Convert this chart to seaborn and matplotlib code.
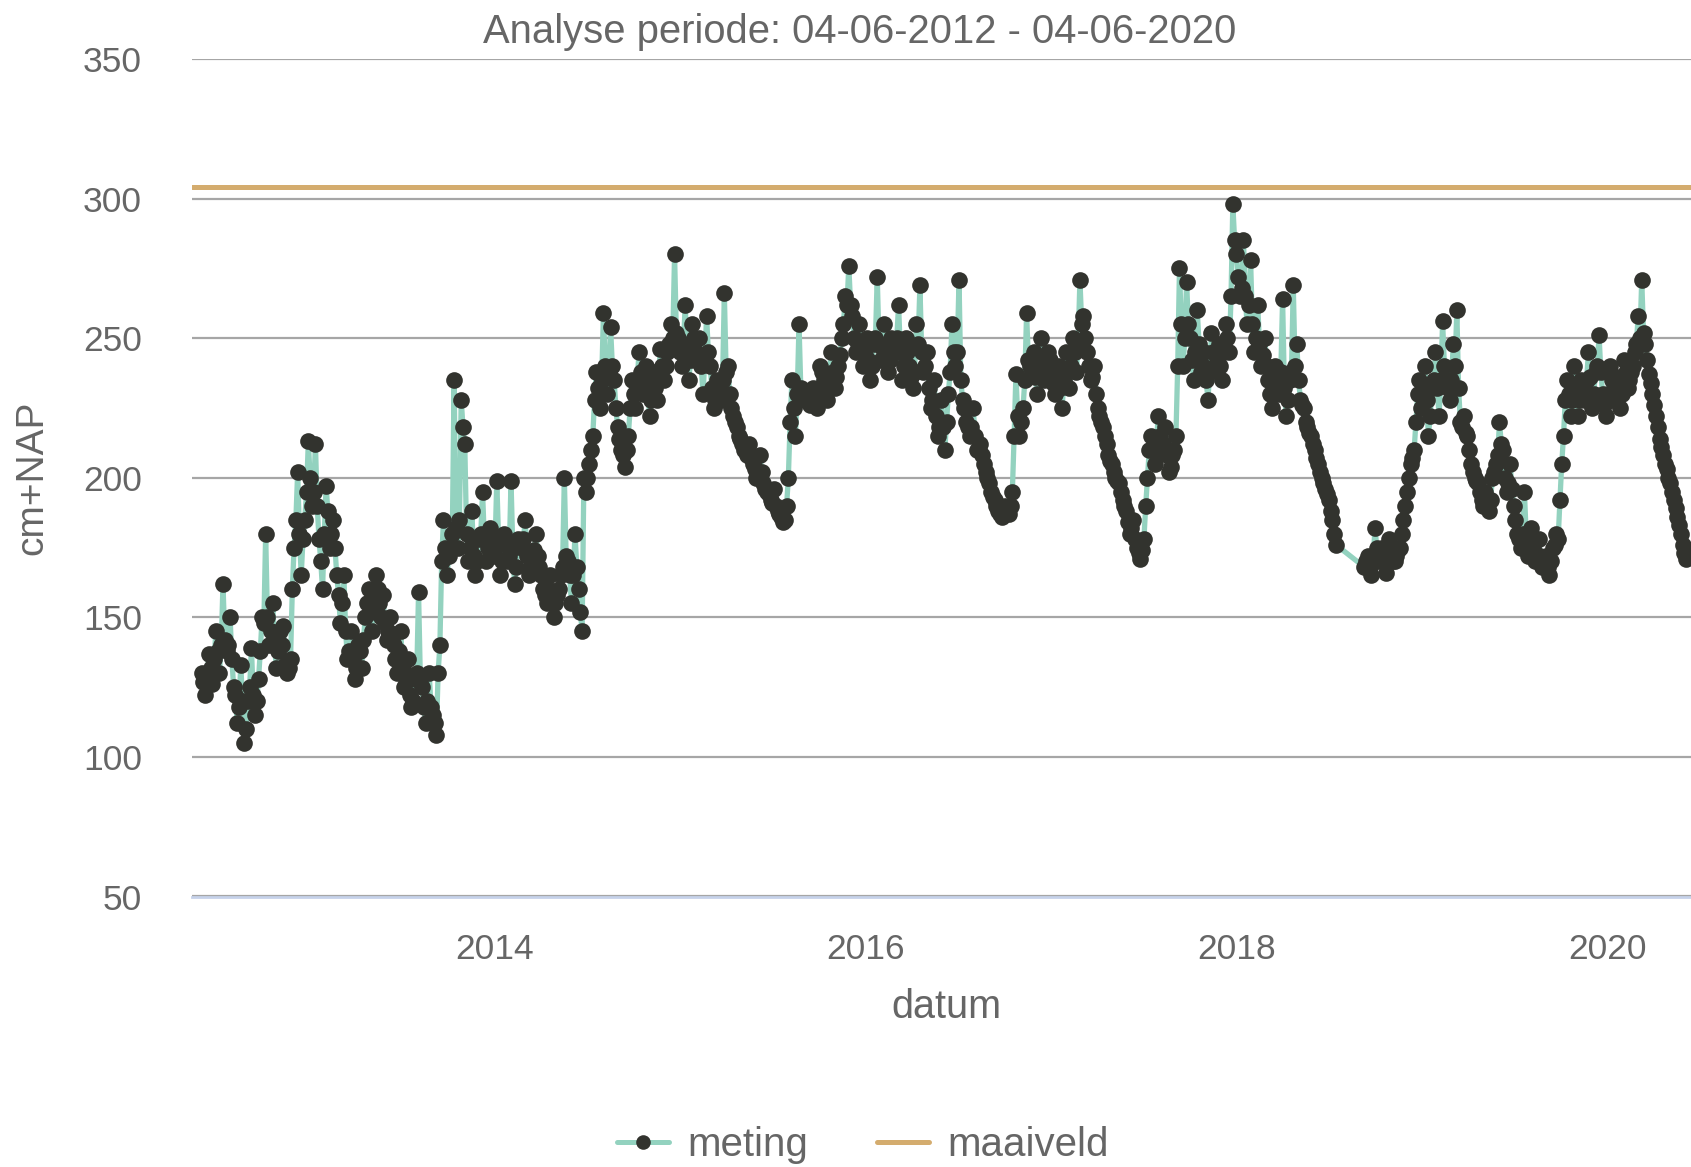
import numpy as np
import pandas as pd
import matplotlib
matplotlib.use('Agg')
import matplotlib.pyplot as plt
import matplotlib.dates as mdates
from matplotlib.lines import Line2D
import seaborn as sns

nan = np.nan

# weekly readings (cm+NAP), starting 04-06-2012
meting_2012 = [130, 122, 137, 126, 145, 130, 162, 138, 150, 125,
               112, 133, 105, 120, 139, 115, 128, 150, 180, 140,
               155, 132, 145, 147, 130, 135, 175, 202, 165, 185]
meting_2013 = [213, 190, 212, 178, 160, 197, 175, 185, 165, 148,
               165, 135, 145, 128, 140, 132, 150, 160, 145, 165,
               155, 158, 142, 150, 140, 130, 145, 125, 135, 118,
               128, 159, 125, 112, 130, 115, 108, 140, 185, 165,
               175, 235, 175, 228, 212, 170, 188, 165, 178, 195,
               170, 182]
meting_2014 = [172, 199, 165, 180, 170, 199, 162, 178, 175, 185,
               165, 172, 180, 168, 160, 155, 165, 150, 158, 165,
               200, 170, 155, 180, 160, 145, 195, 205, 215, 238,
               225, 259, 230, 254, 235, 218, 210, 204, 215, 235,
               225, 245, 230, 240, 222, 238, 228, 246, 235, 245,
               255, 280]
meting_2015 = [250, 240, 262, 235, 255, 245, 250, 230, 258, 240,
               225, 235, 228, 266, 240, 225, 220, 215, 212, 210,
               212, 205, 200, 208, 198, 195, 192, 196, 188, 186,
               185, 200, 235, 215, 255, 230, 228, 226, 232, 225,
               240, 235, 228, 245, 232, 240, 250, 265, 276, 258,
               245, 255]
meting_2016 = [240, 250, 235, 248, 272, 242, 255, 238, 250, 245,
               262, 235, 250, 240, 232, 255, 269, 238, 245, 225,
               235, 215, 228, 210, 230, 255, 240, 271, 228, 220,
               215, 225, 210, 212, 205, 200, 195, 192, 188, 186,
               190, 187, 195, 237, 215, 225, 259, 240, 245, 230,
               250, 235]
meting_2017 = [245, 238, 230, 240, 225, 245, 232, 250, 238, 271,
               258, 245, 235, 240, 225, 220, 215, 208, 205, 200,
               198, 192, 188, 180, 185, 175, 171, 178, 200, 215,
               205, 222, 210, 218, 202, 208, 215, 275, 240, 270,
               250, 235, 260, 238, 245, 228, 252, 240, 248, 235,
               255, 245]
meting_2018 = [298, 280, 265, 285, 255, 278, 245, 262, 240, 250,
               235, 225, 240, 230, 264, 222, 235, 269, 248, 228,
               225, 218, 215, 210, 205, 200, 196, 192, 185, 176,
               nan, nan, nan, nan, nan, nan, nan,
               168, 172, 165, 182, 170, 175, 166, 178, 170, 172,
               175, 185, 195, 205, 210, 230]
meting_2019 = [225, 240, 215, 232, 245, 222, 256, 235, 228, 248,
               260, 220, 222, 215, 205, 200, 198, 192, 195, 188,
               200, 205, 220, 210, 195, 205, 190, 180, 175, 195,
               172, 182, 170, 178, 168, 172, 165, 175, 180, 192,
               215, 235, 222, 240, 222, 235, 228, 245, 225, 238,
               251, 230, 222, 240, 228, 236, 225, 242, 232, 238,
               245]
meting_2020 = [258, 271, 248, 237, 230, 222, 214, 208, 203, 198,
               192, 186, 180, 173]

# readings half a week after each weekly reading
mid_2012 = [127, 128, 132, 135, 138, 140, 142, 140, 135, 122,
            118, 120, 110, 125, 122, 120, 138, 148, 150, 145,
            140, 138, 140, 133, 132, 160, 185, 180, 178, 195]
mid_2013 = [200, 195, 190, 170, 180, 188, 180, 175, 158, 155,
            145, 138, 135, 132, 138, 142, 155, 152, 158, 160,
            150, 148, 145, 142, 135, 138, 132, 128, 122, 120,
            130, 128, 118, 120, 118, 112, 130, 170, 175, 172,
            180, 182, 185, 218, 180, 175, 172, 170, 180, 178,
            175, 176]
mid_2014 = [175, 178, 170, 176, 172, 175, 168, 176, 178, 172,
            168, 174, 172, 165, 158, 160, 158, 155, 160, 168,
            172, 165, 165, 168, 152, 200, 200, 210, 228, 232,
            235, 240, 238, 240, 225, 214, 208, 210, 225, 230,
            235, 238, 235, 230, 228, 232, 236, 240, 240, 248,
            250, 252]
mid_2015 = [245, 248, 245, 242, 250, 242, 240, 242, 245, 232,
            228, 232, 235, 238, 230, 222, 218, 214, 210, 208,
            207, 203, 202, 202, 196, 194, 191, 190, 187, 184,
            190, 220, 225, 230, 232, 229, 227, 230, 228, 232,
            238, 232, 235, 238, 236, 244, 255, 262, 262, 250,
            248, 246]
mid_2016 = [244, 242, 240, 250, 248, 246, 245, 242, 248, 250,
            245, 240, 245, 236, 238, 248, 245, 240, 232, 228,
            222, 218, 218, 220, 238, 245, 245, 235, 225, 218,
            218, 215, 210, 208, 202, 198, 193, 190, 187, 188,
            188, 190, 215, 222, 220, 235, 242, 238, 236, 240,
            242, 240]
mid_2017 = [242, 234, 235, 232, 235, 238, 240, 245, 248, 255,
            250, 240, 236, 230, 222, 218, 212, 206, 202, 199,
            195, 190, 184, 182, 178, 173, 174, 190, 210, 210,
            212, 215, 212, 208, 204, 210, 240, 255, 250, 255,
            242, 245, 248, 240, 235, 238, 245, 243, 240, 245,
            250, 265]
mid_2018 = [285, 272, 268, 265, 262, 255, 250, 248, 244, 240,
            230, 230, 235, 238, 232, 228, 238, 240, 235, 226,
            220, 216, 212, 207, 202, 198, 194, 188, 180,
            nan, nan, nan, nan, nan, nan, nan, nan,
            170, 168, 172, 175, 172, 170, 172, 174, 170, 174,
            180, 190, 200, 207, 220, 235]
mid_2019 = [230, 228, 222, 235, 232, 235, 240, 232, 235, 240,
            232, 218, 216, 210, 202, 199, 195, 190, 192, 192,
            202, 208, 212, 200, 198, 196, 185, 178, 180, 180,
            176, 175, 172, 172, 170, 168, 170, 176, 178, 205,
            228, 230, 228, 232, 228, 232, 235, 236, 230, 240,
            238, 226, 230, 235, 230, 232, 230, 238, 235, 240,
            248]
mid_2020 = [250, 252, 242, 234, 226, 218, 211, 205, 200, 195,
            189, 183, 176, 171]

maaiveld = 304

weekly = (meting_2012 + meting_2013 + meting_2014 + meting_2015 + meting_2016
          + meting_2017 + meting_2018 + meting_2019 + meting_2020)
halfway = (mid_2012 + mid_2013 + mid_2014 + mid_2015 + mid_2016
           + mid_2017 + mid_2018 + mid_2019 + mid_2020)
week_dates = pd.date_range('2012-06-04', periods=len(weekly), freq='7D')

df = pd.concat([
    pd.DataFrame({'datum': week_dates, 'meting': weekly}),
    pd.DataFrame({'datum': week_dates + pd.Timedelta('84h'), 'meting': halfway}),
]).sort_values('datum').dropna()

green = '#93d2bf'
dark = '#32332e'
tan = '#d4ac6e'
grey_txt = '#666666'
axis_blue = '#c6d2ea'

sns.set_style('white')
plt.rcParams['font.family'] = ['Liberation Sans', 'DejaVu Sans']

fig = plt.figure(figsize=(16.91, 11.67), dpi=100)
ax = fig.add_axes([192 / 1691, 1 - 896.5 / 1167, 1 - 192 / 1691, (896.5 - 59) / 1167])

sns.lineplot(data=df, x='datum', y='meting', ax=ax, color=green, linewidth=3.8,
             marker='o', markersize=12, markerfacecolor=dark, markeredgecolor=dark,
             markeredgewidth=0, estimator=None, errorbar=None, sort=True, zorder=3)
ax.axhline(maaiveld, color=tan, linewidth=3.6, zorder=2)

ax.set_ylim(50, 350)
ax.set_yticks([50, 100, 150, 200, 250, 300, 350])
ax.set_xlim(pd.Timestamp('2012-05-16'), pd.Timestamp('2020-06-14'))
ax.xaxis.set_major_locator(mdates.YearLocator(2))
ax.xaxis.set_major_formatter(mdates.DateFormatter('%Y'))

ax.grid(axis='y', color='#a6a6a6', linewidth=1.6)
ax.grid(axis='x', visible=False)
ax.set_axisbelow(True)
for side in ['top', 'right', 'left']:
    ax.spines[side].set_visible(False)
ax.spines['bottom'].set_color(axis_blue)
ax.spines['bottom'].set_linewidth(2.0)
ax.spines['bottom'].set_zorder(2.5)

ax.tick_params(axis='y', length=0, pad=36, labelsize=25.5, labelcolor=grey_txt)
ax.tick_params(axis='x', length=6, width=1.5, color=axis_blue, pad=20,
               labelsize=25.5, labelcolor=grey_txt)
ax.set_xlabel('')
ax.set_ylabel('')

fig.text(860 / 1691, 1 - 32 / 1167, 'Analyse periode: 04-06-2012 - 04-06-2020',
         ha='center', va='center', fontsize=28.8, color=grey_txt)
fig.text(946 / 1691, 1 - 1007 / 1167, 'datum', ha='center', va='center',
         fontsize=28.5, color=grey_txt)
fig.text(32 / 1691, 1 - 478 / 1167, 'cm+NAP', ha='center', va='center',
         rotation=90, fontsize=28, color=grey_txt)

handles = [
    Line2D([], [], color=green, linewidth=3.6, marker='o', markersize=10.5,
           markerfacecolor=dark, markeredgewidth=0),
    Line2D([], [], color=tan, linewidth=3.6),
]
leg = fig.legend(handles, ['meting', 'maaiveld'], loc='center',
                 bbox_to_anchor=(863 / 1691, 1 - 1145 / 1167), ncol=2, frameon=False,
                 fontsize=29, handlelength=1.3, handletextpad=0.45, columnspacing=1.7)
for t in leg.get_texts():
    t.set_color(grey_txt)

fig.savefig('out.png', dpi=100)
